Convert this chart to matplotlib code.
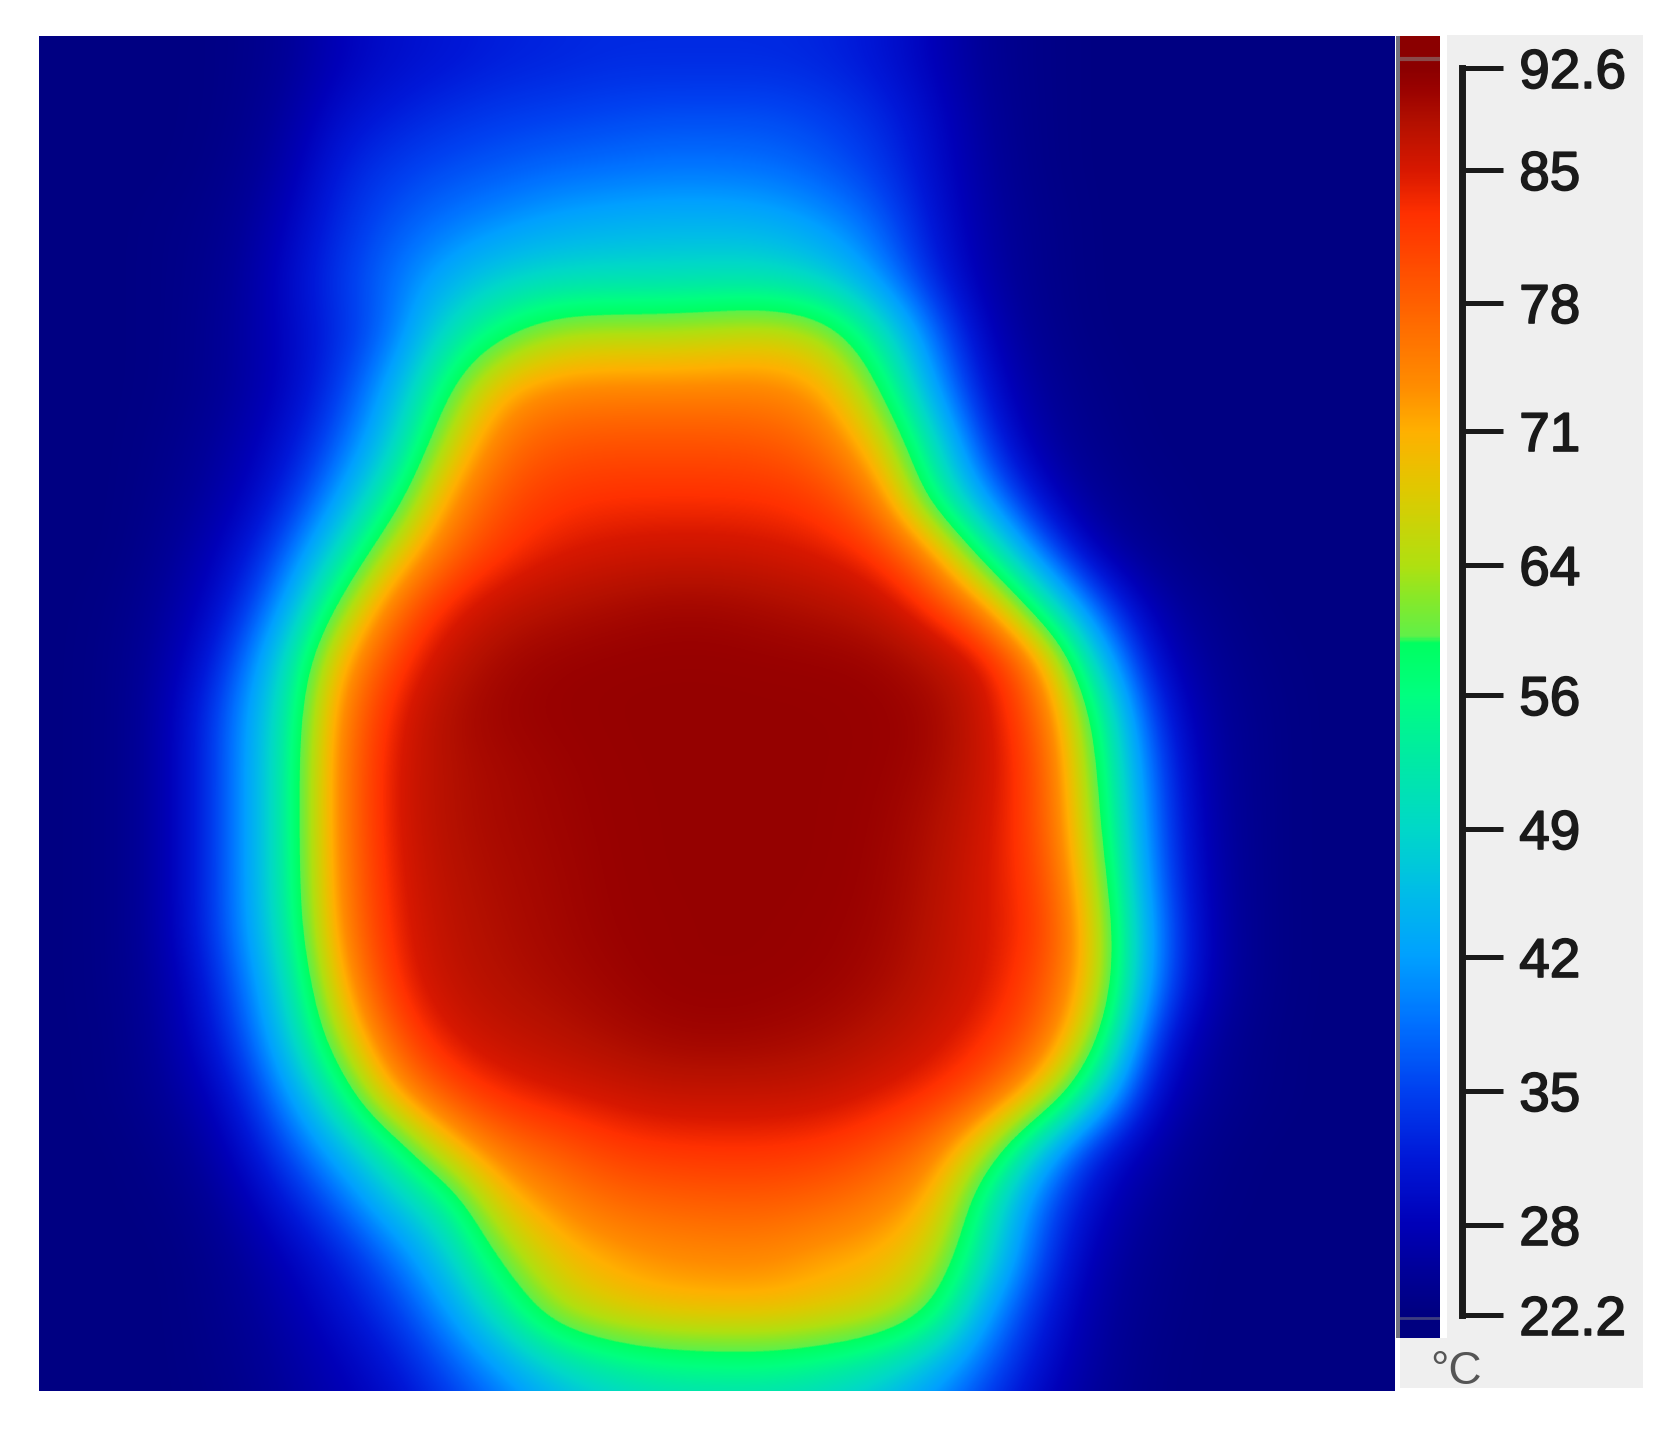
import numpy as np
import matplotlib
matplotlib.use("Agg")
import matplotlib.pyplot as plt
import matplotlib.patheffects as pe
from matplotlib.colors import LinearSegmentedColormap, Normalize
from matplotlib.patches import Rectangle

W, H = 1681, 1435

tick_values = [22.2, 28, 35, 42, 49, 56, 64, 71, 78, 85, 92.6]
tick_labels = ["22.2", "28", "35", "42", "49", "56", "64", "71", "78", "85", "92.6"]
unit_label = "°C"

# colour scale in degrees C
scale_temps = [22.2, 25, 28, 31.5, 35, 38.5, 42, 45.5, 49, 53, 56, 59.2, 59.6, 62, 64, 68, 71, 73.5, 78, 82.7, 85, 88.5, 91, 92.6]
scale_colors = ["#000080", "#000098", "#0000b8", "#0018d8", "#0040f0", "#0070ff", "#00a0ff", "#00bce8", "#00d8c8",
                "#00eca0", "#00ff80", "#00ff60", "#60f048", "#88e828", "#b0e010", "#e0c800", "#ffb000", "#ff8c00",
                "#ff6000", "#ff3000", "#d81800", "#b41000", "#9a0200", "#8b0000"]

# temperature, row by row from the top (degrees C);
# the last row lies just beyond the lower edge of the picture
temperature_grid = [
 [22.5,22.5,22.5,23,24.5,28,30,31,32,32.5,33,33,33,33,32.5,31,28,24.5,23,22.5,22.5,22.5,22.5,22.5,22.5],
 [22.5,22.5,22.5,23,25.5,30,32,33.5,34.5,35,35.5,36,36,36,35,33,29.5,25,23,22.5,22.5,22.5,22.5,22.5,22.5],
 [22.5,22.5,22.5,23.5,26.5,32,34.5,36,37,38,38.5,39,39,38.5,37,34.5,30,25.5,23,22.5,22.5,22.5,22.5,22.5,22.5],
 [22.5,22.5,23,24,28,33,36.5,39,41,43,44,44.5,44.5,44,41.5,37.5,31,26,23.5,22.5,22.5,22.5,22.5,22.5,22.5],
 [22.5,22.5,23,24.5,29,34,38.5,43.5,48,49.5,50,50,50.5,50.5,48,41,32.5,26.5,23.5,22.5,22.5,22.5,22.5,22.5,22.5],
 [22.5,22.5,23,25,28.5,33,38,50,58,64,65,65,66,67,64,52,38,28,24,22.5,22.5,22.5,22.5,22.5,22.5],
 [22.5,22.5,23,25,28.5,34,43,58,71,74,74.5,74.5,74.5,74.5,72,60,42,30,25,23,22.5,22.5,22.5,22.5,22.5],
 [22.5,22.5,23.5,26,30,36.5,47,65,76,79,79.5,79.5,79.5,79,76.5,68,50,33,26,23.5,22.5,22.5,22.5,22.5,22.5],
 [22.5,22.5,24,27,32,41,55,72,79.5,82,82.7,82.7,82.7,82.5,81,75,56,40,29,24.5,23,22.5,22.5,22.5,22.5],
 [22.5,22.5,25,29,36,49,66,77,82,84.5,85.5,86,86,85.5,84.5,82,73,54,37,27,24,22.5,22.5,22.5,22.5],
 [22.5,23,26,31,41,60,76,83.5,87,88.5,89.5,90.3,90.3,89.5,88.5,87,82,73,53,36,27,24,22.5,22.5,22.5],
 [22.5,23.3,27,34,48,70,81,87,90,91,91.3,91.4,91.4,91.3,91.2,90.8,88.5,85,73,47,30,25,23,22.5,22.5],
 [22.5,23.3,28,37,51,74,84,89,90.7,91.2,91.4,91.4,91.4,91.4,91.4,91.3,90.5,86,78,57,34,26,23.5,22.5,22.5],
 [22.5,23.3,28,37,52,75,85,88.5,89.8,90.7,91.3,91.4,91.4,91.4,91.4,91.2,90,86,80,60,37,26.5,23.5,22.5,22.5],
 [22.5,23.3,28,37,52,75,85,88.5,89.7,90.5,91.2,91.4,91.4,91.4,91.4,91,89,85.5,80,62,38,27,23.5,22.5,22.5],
 [22.5,23.3,28,37,52,74.5,84.5,88,89.3,90.2,91.1,91.4,91.4,91.4,91.4,90.8,88.5,85,81,65,39,27.5,23.5,22.5,22.5],
 [22.5,23.3,28,37,51,73.5,84,87.5,89,90,91,91.3,91.4,91.4,91.2,90.5,88,85,82,68,41,28,23.5,22.5,22.5],
 [22.5,23.3,27,35,48,70,83,87,88.5,89.5,90.5,91.3,91.4,91.3,91,89.8,87.5,85,80,68,40,28,23.5,22.5,22.5],
 [22.5,23,26.5,33,45,64,79,85,87,88,89.3,90.3,90.7,90.3,89.5,88,86,83,78,62,34,26,23,22.5,22.5],
 [22.5,23,25.5,30,40,54,72,80,83.5,85,86,87,87,87,86.5,85,83,79,69,49,30,25,23,22.5,22.5],
 [22.5,22.5,24,28,35,44,55,69,76.5,79,81.5,82.5,82.7,82.7,82,80,76,65,46,32,27,23.5,22.5,22.5,22.5],
 [22.5,22.5,23,26,31,37,46,54,69,74,77,78,78.5,78.5,77.5,75,71,53,37,29,25,23,22.5,22.5,22.5],
 [22.5,22.5,22.5,24.5,28,32,38,47,61,69,72,73.5,74,74,72,71,66,50,35,27,24,22.5,22.5,22.5,22.5],
 [22.5,22.5,22.5,24,26.5,30,34,41,52,64,68,70,70.5,70.5,69,67,60,42,32,26,23.5,22.5,22.5,22.5,22.5],
 [22.5,22.5,22.5,23.5,25.5,28,31,36,42,49,53,55,55.5,55.5,54,51,45,37,30,25.5,23,22.5,22.5,22.5,22.5],
 [22.5,22.5,22.5,23,25,27,29,33,37,42,46,48,48.5,48.5,47,44,39,33,28,24.5,23,22.5,22.5,22.5,22.5],
]

# pixel rows of the scale's ticks, same order as tick_values
tick_rows = [1315, 1225, 1091, 957, 829, 695, 565, 431, 303, 170, 68]


def axes_px(x0, y0, x1, y1, **kw):
    return fig.add_axes([x0 / W, 1 - y1 / H, (x1 - x0) / W, (y1 - y0) / H], **kw)


fig = plt.figure(figsize=(W / 100, H / 100), dpi=100, facecolor="white")
plt.rcParams["font.family"] = ["Liberation Sans", "DejaVu Sans"]

vmin, vmax = tick_values[0], tick_values[-1]
norm = Normalize(vmin, vmax)
cmap = LinearSegmentedColormap.from_list(
    "thermal", [((t - vmin) / (vmax - vmin), c) for t, c in zip(scale_temps, scale_colors)], N=1024)

# grey panel behind the scale
fig.add_artist(Rectangle((1447 / W, 1 - 1388 / H), (1643 - 1447) / W, (1388 - 35) / H,
                         transform=fig.transFigure, fc="#efefef", ec="none", zorder=-2))
fig.add_artist(Rectangle((1400 / W, 1 - 1388 / H), (1643 - 1400) / W, 50 / H,
                         transform=fig.transFigure, fc="#efefef", ec="none", zorder=-2))

# heat map
ax = axes_px(39, 36, 1395, 1391)
ax.imshow(np.array(temperature_grid), cmap=cmap, norm=norm, interpolation="bicubic", aspect="auto")
ax.set_ylim(24.5, -0.5)
ax.set_axis_off()

# nonlinear value-to-position mapping of the scale
anchor_v = np.array([20.7] + tick_values + [95.0])
anchor_p = -np.array([1338] + tick_rows + [36], dtype=float)
forward = lambda v: np.interp(v, anchor_v, anchor_p)
inverse = lambda p: np.interp(p, anchor_p, anchor_v)

bar = axes_px(1400, 36, 1440, 1338)
levels = np.linspace(20.7, 95.0, 1200)
bar.set_yscale("function", functions=(forward, inverse))
bar.pcolormesh([0, 1], levels, (0.5 * (levels[:-1] + levels[1:]))[:, None], cmap=cmap, norm=norm, rasterized=True)
bar.set_ylim(20.7, 95.0)
bar.set_xlim(0, 1)
bar.axhline(93.3, color="#8a6a6a", lw=3, alpha=0.7)
bar.axhline(22.0, color="#5a5a80", lw=2, alpha=0.7)
bar.set_xticks([])
bar.set_yticks([])
bar.minorticks_off()
bar.tick_params(which="both", left=False, right=False, labelleft=False)
for s in bar.spines.values():
    s.set_visible(False)
fig.add_artist(Rectangle((1396 / W, 1 - 1338 / H), 4 / W, (1338 - 36) / H,
                         transform=fig.transFigure, fc="#70707f", ec="none", zorder=5))

# tick axis
sc = axes_px(1462, 36, 1463, 1338)
sc.patch.set_visible(False)
sc.set_yscale("function", functions=(forward, inverse))
sc.set_ylim(20.7, 95.0)
sc.set_xticks([])
sc.yaxis.set_ticks_position("right")
sc.set_yticks(tick_values)
sc.set_yticklabels(tick_labels)
sc.minorticks_off()
sc.tick_params(axis="y", direction="out", length=29, width=3.6, color="#1a1a1a", pad=11.5,
               labelsize=39.5, labelcolor="#1a1a1a")
for lbl in sc.get_yticklabels():
    lbl.set_fontfamily(["Liberation Sans", "DejaVu Sans"])
    lbl.set_path_effects([pe.withStroke(linewidth=1.2, foreground="#1a1a1a")])
for name, s in sc.spines.items():
    s.set_visible(name == "left")
sc.spines["left"].set_linewidth(5)
sc.spines["left"].set_color("#1a1a1a")
sc.spines["left"].set_bounds(22.2, 92.6)

fig.text(1430 / W, 1 - 1372 / H, unit_label, fontsize=33, color="#555555", va="center", ha="left",
         family=["Liberation Sans", "DejaVu Sans"])

fig.savefig("out.png", dpi=100, facecolor="white")
